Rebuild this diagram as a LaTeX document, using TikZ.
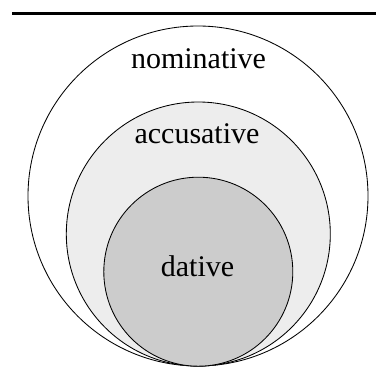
\documentclass[tikz,border=0pt]{standalone}
\usepackage{fontspec}
\setmainfont{Liberation Serif}
\begin{document}
\begin{tikzpicture}[x=1pt,y=-1pt,
  ring/.style={draw=black,line width=0.85pt},
  caselabel/.style={anchor=base,inner sep=0pt,font=\fontsize{30}{31}\selectfont}]
\useasboundingbox (0,0) rectangle (376,390);
% heavy rule across the top
\coordinate (ruleL) at (12,13.5);
\coordinate (ruleR) at (376,13.5);
\draw[line width=2.6pt] (ruleL) -- (ruleR);
% nested case sets, all touching at the bottom
\draw[ring,fill=white] (198,196) circle[radius=170];
\draw[ring,fill=black!7] (198.3,234) circle[radius=132];
\draw[ring,fill=black!20] (198.3,271.7) circle[radius=94.5];
\node[caselabel] (nom) at (198.5,69) {nominative};
\node[caselabel] (acc) at (197,143) {accusative};
\node[caselabel] (dat) at (197.5,276.5) {dative};
\end{tikzpicture}
\end{document}
